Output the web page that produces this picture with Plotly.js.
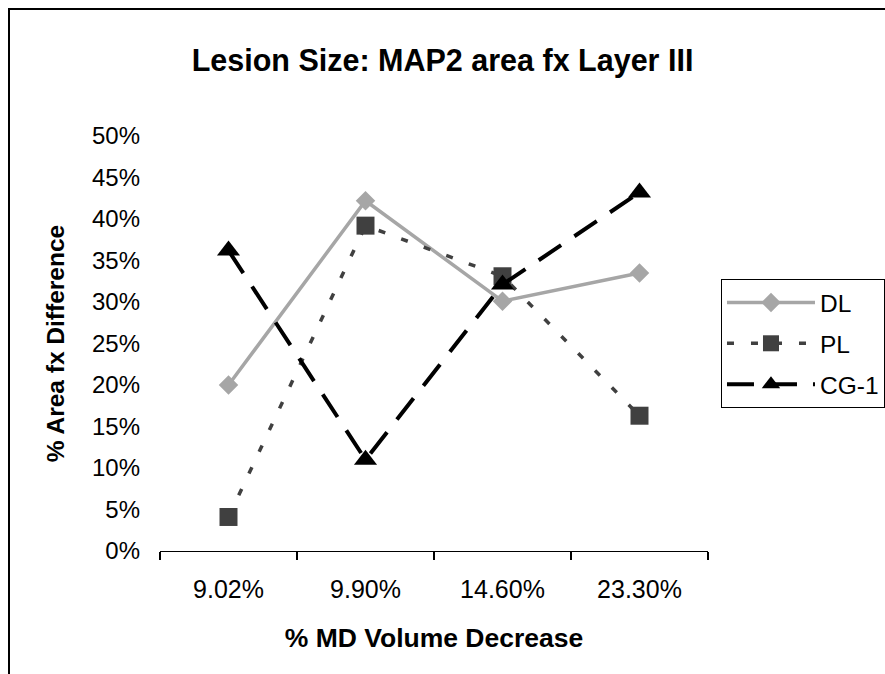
<!DOCTYPE html>
<html>
<head>
<meta charset="utf-8">
<script src="https://cdn.plot.ly/plotly-3.0.1.min.js"></script>
<style>
  html, body { margin: 0; padding: 0; background: #fff; overflow: hidden; }
  #chart { width: 885px; height: 674px; position: absolute; left: 0; top: 0; }
  #frame { position: absolute; left: 8px; top: 8px; width: 900px; height: 700px;
           border-top: 2px solid #000; border-left: 2px solid #000; pointer-events: none; }
</style>
</head>
<body>
<div id="chart"></div>
<div id="frame"></div>
<script>
// Categories (x axis): % MD Volume Decrease
const categories = ["9.02%", "9.90%", "14.60%", "23.30%"];
// Series values: % Area fx Difference (in percent)
const dlValues  = [20.0, 42.2, 30.1, 33.5];
const plValues  = [4.1, 39.2, 33.1, 16.3];
const cg1Values = [36.2, 11.0, 32.1, 43.2];
// Series names
const seriesNames = ["DL", "PL", "CG-1"];

const FONT = "Liberation Sans, Arial, sans-serif";

const traces = [
  {
    x: categories, y: dlValues, name: seriesNames[0], legendgroup: "g1",
    type: "scatter", mode: "lines+markers",
    line: { color: "#a6a6a6", width: 3.5 },
    marker: { symbol: "diamond", size: 15, color: "#a6a6a6" }
  },
  {
    x: categories, y: plValues, name: seriesNames[1], legendgroup: "g2",
    type: "scatter", mode: "lines+markers",
    line: { color: "#404040", width: 3.5, dash: "7px,17px" },
    marker: { symbol: "square", size: 18, color: "#404040" }
  },
  {
    x: categories, y: cg1Values, name: seriesNames[2], legendgroup: "g3",
    type: "scatter", mode: "lines+markers",
    line: { color: "#000000", width: 4, dash: "27px,16px" },
    marker: { symbol: "triangle-up", size: 20, color: "#000000" }
  }
];

const layout = {
  width: 885, height: 674,
  paper_bgcolor: "#ffffff", plot_bgcolor: "#ffffff",
  margin: { l: 160, r: 177, t: 136, b: 123, pad: 0, autoexpand: false },
  font: { family: FONT, color: "#000" },
  title: {
    text: "Lesion Size: MAP2 area fx Layer III",
    font: { family: FONT, size: 30.5, weight: "bold", color: "#000" },
    x: 0.5, xref: "container", xanchor: "center",
    y: 0.911, yref: "container", yanchor: "middle"
  },
  xaxis: {
    type: "category", range: [-0.5, 3.5], fixedrange: true,
    showline: true, linecolor: "#000", linewidth: 1.3,
    ticks: "outside", ticklen: 8, tickwidth: 1.3, tickcolor: "#000",
    tickson: "boundaries", showgrid: false, zeroline: false,
    tickfont: { family: FONT, size: 25, color: "#000" },
    ticklabelstandoff: 16,
    automargin: false,
    title: { text: "% MD Volume Decrease", standoff: 26,
             font: { family: FONT, size: 26.5, weight: "bold", color: "#000" } }
  },
  yaxis: {
    range: [0, 50], fixedrange: true,
    tickmode: "linear", tick0: 0, dtick: 5, ticksuffix: "%",
    showline: false, showgrid: false, zeroline: false, ticks: "",
    tickfont: { family: FONT, size: 24, color: "#000" },
    ticklabelstandoff: 19,
    automargin: false,
    title: { text: "% Area fx Difference", standoff: 20,
             font: { family: FONT, size: 24.5, weight: "bold", color: "#000" } }
  },
  showlegend: true,
  legend: {
    x: 1.0237, xanchor: "left", xref: "paper",
    y: 0.6554, yanchor: "top", yref: "paper",
    bordercolor: "#000", borderwidth: 1, bgcolor: "#fff",
    font: { family: FONT, size: 24.5, color: "#000" },
    itemwidth: 88, traceorder: "grouped", tracegroupgap: 6
  }
};

Plotly.newPlot("chart", traces, layout, { displayModeBar: false, staticPlot: true });
</script>
</body>
</html>
